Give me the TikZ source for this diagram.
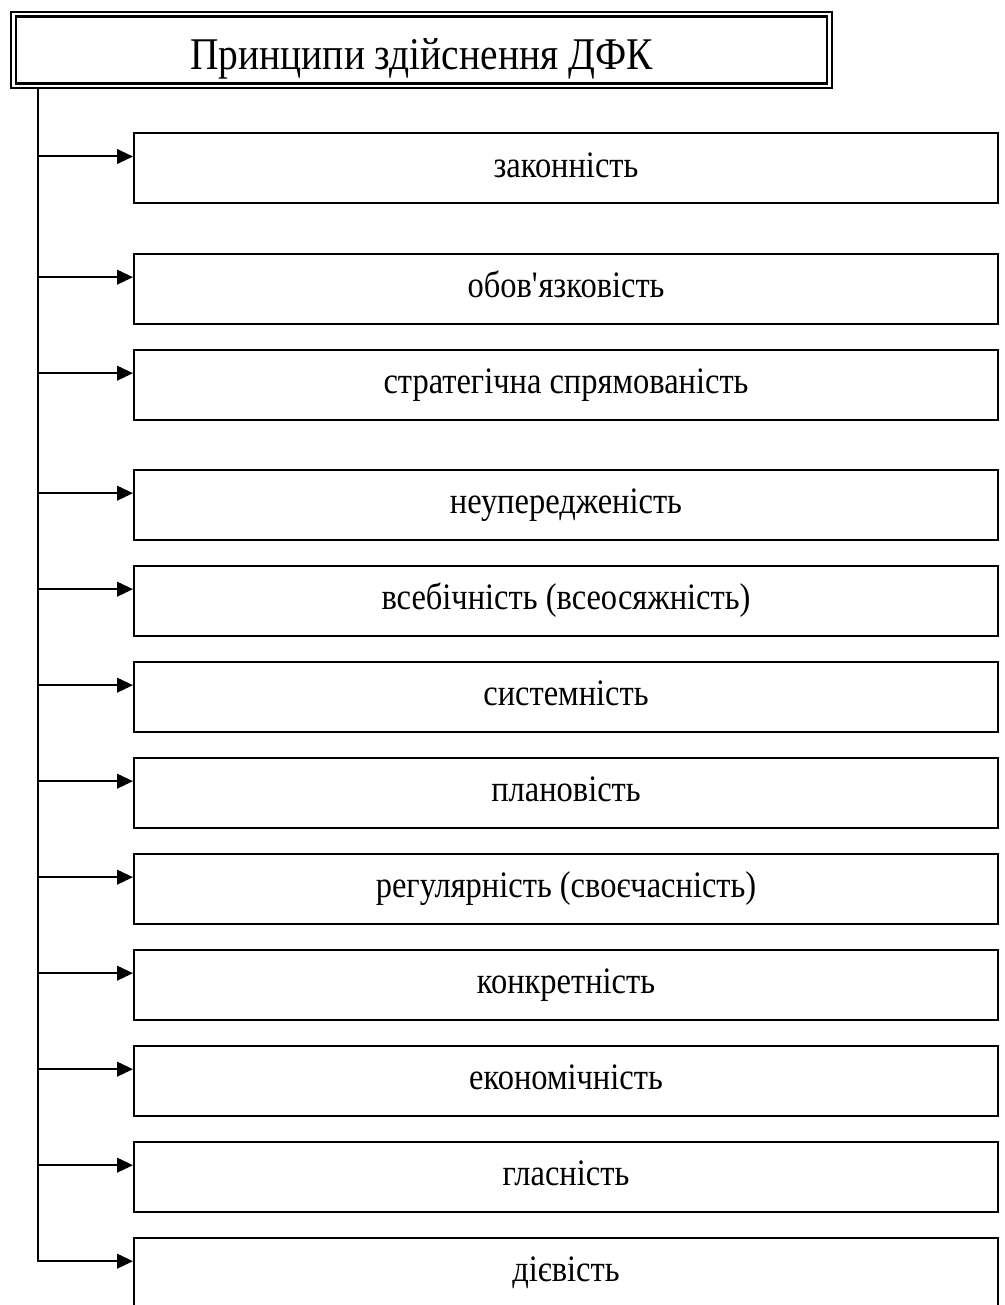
\documentclass[tikz,border=0pt]{standalone}
\usepackage{fontspec}
\setmainfont{Liberation Serif}[FakeStretch=0.87]
\usetikzlibrary{arrows.meta, positioning}

\begin{document}
\begin{tikzpicture}[
    x=0.75pt, y=-0.75pt,
    node distance=18pt,
    title/.style={rectangle, draw, double, line width=1.7pt, double distance=1.7pt, minimum width=612pt, minimum height=53.5pt, text height=30pt, text depth=0pt, font=\fontsize{34}{38}\selectfont},
    principle/.style={rectangle, draw, line width=1.5pt, minimum width=648pt, minimum height=52.5pt, text height=15pt, text depth=2pt, font=\fontsize{28}{32}\selectfont},
    arrow/.style={-{Triangle[length=12pt, width=11pt]}, line width=1.5pt}
]

\useasboundingbox (0,0) rectangle (1005,1305);

\node[title] (head) at (421.5,50) {Принципи здійснення ДФК};

\node[principle] (legal) at (566,168.5) {законність};
\node[principle, below=36.5pt of legal] (mandatory) {обов\textquotesingle язковість};
\node[principle, below=of mandatory] (strategic) {стратегічна спрямованість};
\node[principle, below=36pt of strategic] (unbiased) {неупередженість};
\node[principle, below=of unbiased] (comprehensive) {всебічність (всеосяжність)};
\node[principle, below=of comprehensive] (systemic) {системність};
\node[principle, below=of systemic] (planned) {плановість};
\node[principle, below=of planned] (regular) {регулярність (своєчасність)};
\node[principle, below=of regular] (concrete) {конкретність};
\node[principle, below=of concrete] (economic) {економічність};
\node[principle, below=of economic] (public) {гласність};
\node[principle, below=of public] (effective) {дієвість};

% arrow ends, a bit above the middle of each box
\foreach \n in {legal, mandatory, strategic, unbiased, comprehensive, systemic, planned, regular, concrete, economic, public, effective}
    \coordinate (\n-in) at ([yshift=9pt]\n.west);

\coordinate (spine) at (38,89);

\draw[arrow] (spine) |- (effective-in);
\foreach \n in {legal, mandatory, strategic, unbiased, comprehensive, systemic, planned, regular, concrete, economic, public}
    \draw[arrow] (spine |- \n-in) -- (\n-in);

\end{tikzpicture}
\end{document}
